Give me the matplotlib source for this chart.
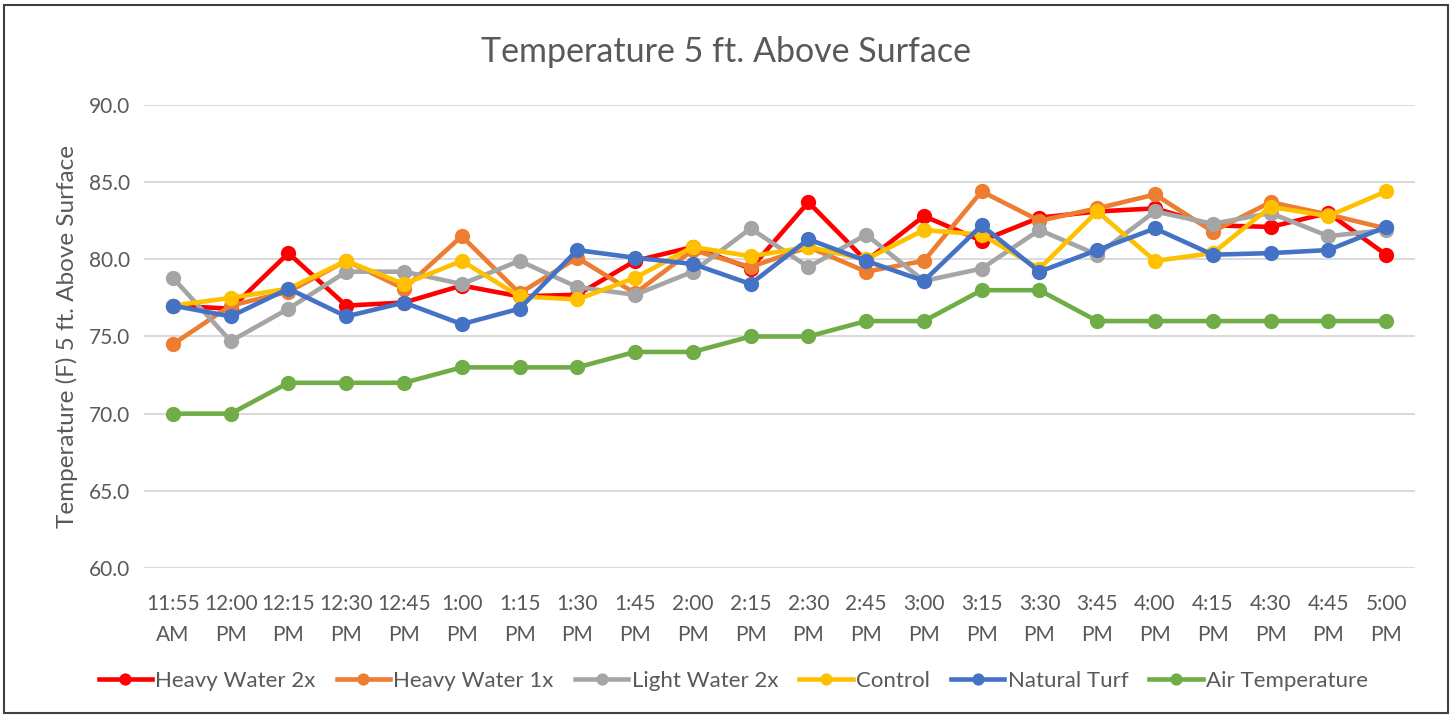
import matplotlib
matplotlib.use('Agg')
import matplotlib.pyplot as plt
from matplotlib.patches import Rectangle

plt.rcParams['font.family'] = ['Lato', 'DejaVu Sans']

times = ['11:55\nAM', '12:00\nPM', '12:15\nPM', '12:30\nPM', '12:45\nPM', '1:00\nPM',
         '1:15\nPM', '1:30\nPM', '1:45\nPM', '2:00\nPM', '2:15\nPM', '2:30\nPM',
         '2:45\nPM', '3:00\nPM', '3:15\nPM', '3:30\nPM', '3:45\nPM', '4:00\nPM',
         '4:15\nPM', '4:30\nPM', '4:45\nPM', '5:00\nPM']

heavy_2x = [77.0, 76.8, 80.4, 77.0, 77.2, 78.3, 77.6, 77.7, 79.9, 80.8, 79.4,
            83.7, 79.9, 82.8, 81.2, 82.7, 83.1, 83.3, 82.2, 82.1, 83.0, 80.3]
heavy_1x = [74.5, 77.0, 77.9, 79.9, 78.1, 81.5, 77.8, 80.1, 77.8, 80.6, 79.5,
            80.8, 79.2, 79.9, 84.4, 82.5, 83.3, 84.2, 81.8, 83.7, 82.9, 82.0]
light_2x = [78.8, 74.7, 76.8, 79.2, 79.2, 78.4, 79.9, 78.2, 77.7, 79.2, 82.0,
            79.5, 81.6, 78.6, 79.4, 81.9, 80.3, 83.1, 82.3, 83.0, 81.5, 81.9]
control = [77.0, 77.5, 78.1, 79.9, 78.4, 79.9, 77.6, 77.4, 78.8, 80.8, 80.2,
           80.8, 80.0, 81.9, 81.6, 79.4, 83.1, 79.9, 80.4, 83.4, 82.8, 84.4]
natural = [77.0, 76.3, 78.1, 76.3, 77.2, 75.8, 76.8, 80.6, 80.1, 79.7, 78.4,
           81.3, 79.9, 78.6, 82.2, 79.2, 80.6, 82.0, 80.3, 80.4, 80.6, 82.1]
air_temp = [70, 70, 72, 72, 72, 73, 73, 73, 74, 74, 75,
            75, 76, 76, 78, 78, 76, 76, 76, 76, 76, 76]

series = [('Heavy Water 2x', heavy_2x, '#FF0000'),
          ('Heavy Water 1x', heavy_1x, '#ED7D31'),
          ('Light Water 2x', light_2x, '#A5A5A5'),
          ('Control', control, '#FFC000'),
          ('Natural Turf', natural, '#4472C4'),
          ('Air Temperature', air_temp, '#70AD47')]

fig = plt.figure(figsize=(14.52, 7.17), dpi=100)
fig.patches.append(Rectangle((0.003, 0.005), 0.994, 0.988, transform=fig.transFigure,
                             fill=False, edgecolor='#404040', linewidth=1.5))
ax = fig.add_axes([0.0992, 0.2078, 0.8753, 0.6458])

x = list(range(len(times)))
for name, vals, col in series:
    ax.plot(x, vals, color=col, linewidth=3.3, marker='o', markersize=11,
            markeredgewidth=0, label=name)

ax.set_xlim(-0.5, len(times) - 0.5)
ax.set_ylim(60, 90)
ax.set_yticks([60, 65, 70, 75, 80, 85, 90])
ax.set_yticklabels(['%.1f' % v for v in [60, 65, 70, 75, 80, 85, 90]])
ax.set_xticks(x)
ax.set_xticklabels(times, linespacing=1.65)
ax.tick_params(length=0, labelsize=15, colors='#595959', pad=10)
ax.tick_params(axis='x', pad=19)
ax.grid(axis='y', color='#D9D9D9', linewidth=1.4)
ax.set_axisbelow(True)
for s in ax.spines.values():
    s.set_visible(False)

ax.set_ylabel('Temperature (F) 5 ft. Above Surface', fontsize=17.5, color='#595959', labelpad=8)
fig.text(0.5, 0.928, 'Temperature 5 ft. Above Surface', fontsize=24.5, color='#595959',
         ha='center', va='center')

fig.legend(loc='center', bbox_to_anchor=(0.505, 0.05), ncol=6, frameon=False,
           fontsize=16, labelcolor='#595959', handlelength=2.4, handletextpad=0.15,
           columnspacing=0.95, markerscale=0.8)

fig.savefig('out.png', dpi=100)
